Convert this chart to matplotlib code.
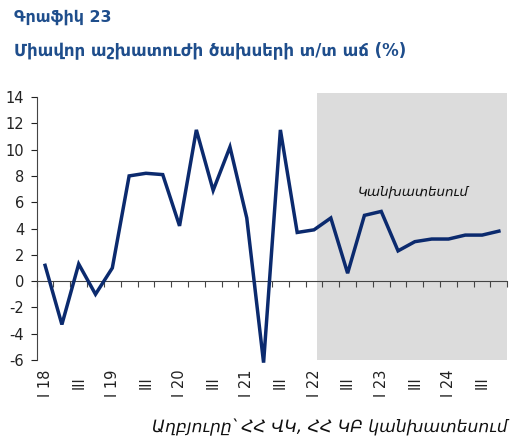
import matplotlib
matplotlib.use('Agg')
import matplotlib.pyplot as plt
from matplotlib.patches import Rectangle
from matplotlib.transforms import blended_transform_factory

plt.rcParams['axes.unicode_minus'] = False

# quarterly unit labour cost growth, 2018 Q1 - 2024 Q4
values = [1.2, -3.3, 1.3, -1.0, 1.0, 8.0, 8.2, 8.1,
          4.2, 11.5, 6.9, 10.2, 4.8, -6.2, 11.5, 3.7,
          3.9, 4.8, 0.6, 5.0, 5.3, 2.3, 3.0, 3.2,
          3.2, 3.5, 3.5, 3.8]
years = ['18', '19', '20', '21', '22', '23', '24']
labels = []
for y in years:
    labels += ['I ' + y, 'III']
forecast_start = 16.2

line_col = '#0B2A6E'
title_col = '#1F4E8C'

fig = plt.figure(figsize=(5.21, 4.40), dpi=100)
ax = fig.add_axes([0.0704, 0.1818, 0.9033, 0.5977])

x = list(range(len(values)))
ax.set_xlim(-0.5, len(values) - 0.5)
ax.set_ylim(-6, 14)

# forecast shading
tr = blended_transform_factory(ax.transData, ax.transAxes)
ax.add_patch(Rectangle((forecast_start, 0), len(values) - 0.5 - forecast_start, 1.016,
                       transform=tr, facecolor='#DCDCDC', edgecolor='none',
                       clip_on=False, zorder=0))

ax.plot(x, values, color=line_col, lw=2.5, zorder=3, clip_on=False,
        solid_joinstyle='miter')

ax.text(21.9, 6.8, 'Կանխատեսում', style='italic', fontsize=9.7,
        ha='center', va='center', color='#111111')

# y axis
ax.set_yticks(range(-6, 15, 2))
ax.tick_params(axis='y', direction='out', length=4, width=0.8, labelsize=10.5,
               pad=5, colors='#222222')
for s in ['top', 'right', 'bottom']:
    ax.spines[s].set_visible(False)
ax.spines['left'].set_color('#444444')

# labels at the bottom
ax.set_xticks(range(0, len(values), 2))
ax.set_xticklabels(labels, rotation=90, fontsize=10.5, color='#222222')
ax.tick_params(axis='x', length=0, pad=16.5)
for t in ax.get_xticklabels():
    t.set_va('center')

# zero line with tick marks
zax = ax.secondary_xaxis(0.3)
zax.set_xticks([i + 0.5 for i in range(-1, len(values))])
zax.set_xticklabels([])
zax.tick_params(direction='out', length=4, width=0.8, colors='#444444')
zax.spines['bottom'].set_color('#444444')

fig.text(0.027, 0.96, 'Գրաֆիկ 23', fontsize=11.4, fontweight='bold',
         color=title_col, ha='left', va='center')
fig.text(0.027, 0.885, 'Միավոր աշխատուժի ծախսերի տ/տ աճ (%)', fontsize=12,
         fontweight='bold', color=title_col, ha='left', va='center')
fig.text(0.975, 0.028, 'Աղբյուրը՝ ՀՀ ՎԿ, ՀՀ ԿԲ կանխատեսում', fontsize=12.3,
         style='italic', color='#111111', ha='right', va='center')

fig.savefig('out.png', dpi=100)
